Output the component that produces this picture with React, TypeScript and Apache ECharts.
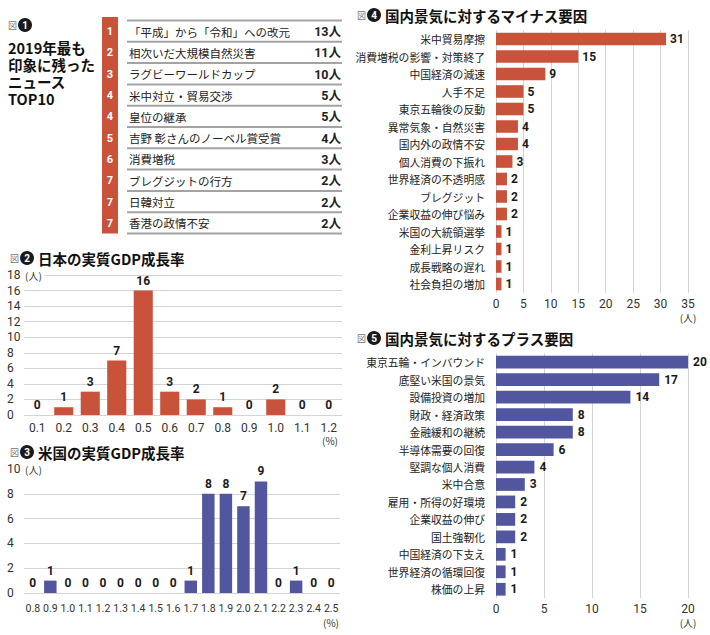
import React, { useEffect, useRef } from "react";
import * as echarts from "echarts";

// ---------- data ----------
const newsRanks = ["1", "2", "3", "4", "4", "5", "6", "7", "7", "7"];
const newsItems = [
  "「平成」から「令和」への改元",
  "相次いだ大規模自然災害",
  "ラグビーワールドカップ",
  "米中対立・貿易交渉",
  "皇位の継承",
  "吉野 彰さんのノーベル賞受賞",
  "消費増税",
  "ブレグジットの行方",
  "日韓対立",
  "香港の政情不安",
];
const newsCounts = [13, 11, 10, 5, 5, 4, 3, 2, 2, 2];
const titleLines = ["2019年最も", "印象に残った", "ニュース", "TOP10"];

const jpCategories = ["0.1", "0.2", "0.3", "0.4", "0.5", "0.6", "0.7", "0.8", "0.9", "1.0", "1.1", "1.2"];
const jpValues = [0, 1, 3, 7, 16, 3, 2, 1, 0, 2, 0, 0];

const usCategories = ["0.8", "0.9", "1.0", "1.1", "1.2", "1.3", "1.4", "1.5", "1.6", "1.7", "1.8", "1.9", "2.0", "2.1", "2.2", "2.3", "2.4", "2.5"];
const usValues = [0, 1, 0, 0, 0, 0, 0, 0, 0, 1, 8, 8, 7, 9, 0, 1, 0, 0];

const minusFactors = [
  "米中貿易摩擦",
  "消費増税の影響・対策終了",
  "中国経済の減速",
  "人手不足",
  "東京五輪後の反動",
  "異常気象・自然災害",
  "国内外の政情不安",
  "個人消費の下振れ",
  "世界経済の不透明感",
  "ブレグジット",
  "企業収益の伸び悩み",
  "米国の大統領選挙",
  "金利上昇リスク",
  "成長戦略の遅れ",
  "社会負担の増加",
];
const minusValues = [31, 15, 9, 5, 5, 4, 4, 3, 2, 2, 2, 1, 1, 1, 1];

const plusFactors = [
  "東京五輪・インバウンド",
  "底堅い米国の景気",
  "設備投資の増加",
  "財政・経済政策",
  "金融緩和の継続",
  "半導体需要の回復",
  "堅調な個人消費",
  "米中合意",
  "雇用・所得の好環境",
  "企業収益の伸び",
  "国土強靭化",
  "中国経済の下支え",
  "世界経済の循環回復",
  "株価の上昇",
];
const plusValues = [20, 17, 14, 8, 8, 6, 4, 3, 2, 2, 2, 1, 1, 1];

// ---------- styles ----------
const FONT_JP = "'Noto Sans CJK JP', 'Noto Sans', sans-serif";
const FONT_NUM = "'Roboto', 'Noto Sans CJK JP', sans-serif";
const RED = "#c8533a";
const BLUE = "#52569f";
const GRID_LINE = "#d4d4d4";
const TEXT = "#222";

function header(x: number, y: number, num: string, title: string) {
  const els: any[] = [
    { type: "text", x: x, y: y, z: 100, style: { text: "図", fill: "#777", fontSize: 9, fontFamily: FONT_JP, verticalAlign: "middle" } },
    { type: "circle", z: 100, shape: { cx: x + 17, cy: y, r: 7 }, style: { fill: "#1a1a1a" } },
    { type: "text", x: x + 17, y: y + 0.5, z: 101, style: { text: num, fill: "#fff", fontSize: 10, fontWeight: "bold", fontFamily: FONT_NUM, align: "center", verticalAlign: "middle" } },
  ];
  if (title) {
    els.push({ type: "text", x: x + 28, y: y, z: 100, style: { text: title, fill: "#111", fontSize: 14.5, fontWeight: "bold", fontFamily: FONT_JP, verticalAlign: "middle" } });
  }
  return els;
}

function buildTable() {
  const els: any[] = [];
  const top = 20.5;
  const rowH = 21.3;
  els.push({ type: "rect", z: 100, shape: { x: 102, y: 17, width: 16, height: top + rowH * newsItems.length - 17 }, style: { fill: RED } });
  for (let i = 0; i <= newsItems.length; i++) {
    const y = top + rowH * i;
    els.push({ type: "line", z: 100, shape: { x1: 127, y1: y, x2: 342, y2: y }, style: { stroke: "#a3a3a3", lineWidth: 2 } });
  }
  newsItems.forEach((item, i) => {
    const cy = top + rowH * i + rowH / 2 + 0.5;
    els.push({ type: "text", x: 110, y: cy, z: 101, style: { text: newsRanks[i], fill: "#fff", fontSize: 11, fontWeight: "bold", fontFamily: FONT_NUM, align: "center", verticalAlign: "middle" } });
    els.push({ type: "text", x: 129, y: cy, z: 101, style: { text: item, fill: TEXT, fontSize: 11.5, fontFamily: FONT_JP, verticalAlign: "middle" } });
    els.push({ type: "text", x: 341, y: cy, z: 101, style: { text: newsCounts[i] + "人", fill: TEXT, fontSize: 12.5, fontWeight: "bold", fontFamily: FONT_NUM, align: "right", verticalAlign: "middle" } });
  });
  return els;
}

function unitText(x: number, y: number, text: string) {
  return { type: "text", x: x, y: y, z: 100, style: { text: text, fill: "#333", fontSize: 10, fontFamily: FONT_JP, align: "center", verticalAlign: "middle" } };
}

const barLabel = {
  show: true,
  fontSize: 12,
  fontWeight: "bold",
  color: "#1a1a1a",
  fontFamily: FONT_NUM,
};

const yUnitName = {
  name: "(人)",
  nameLocation: "end",
  nameGap: 0,
  nameMoveOverlap: false,
  nameTextStyle: {
    fontSize: 10,
    color: "#333",
    fontFamily: FONT_JP,
    align: "left",
    verticalAlign: "middle",
    backgroundColor: "#fff",
    padding: [1, 3, 1, 1],
  },
};

export default function App() {
  const ref = useRef<HTMLDivElement>(null);

  useEffect(() => {
    if (!ref.current) return;
    const chart = echarts.init(ref.current, undefined, { renderer: "svg" });

    const graphic: any[] = [
      ...header(8, 25, "1", ""),
      ...titleLines.map((t, i) => ({
        type: "text", x: 8, y: 47 + 17.2 * i, z: 100,
        style: { text: t, fill: "#111", fontSize: 14.5, fontWeight: "bold", fontFamily: FONT_JP, verticalAlign: "middle" },
      })),
      ...buildTable(),
      ...header(10, 258, "2", "日本の実質GDP成長率"),
      ...header(10, 452, "3", "米国の実質GDP成長率"),
      ...header(357, 15, "4", "国内景気に対するマイナス要因"),
      ...header(357, 338, "5", "国内景気に対するプラス要因"),
      unitText(330, 440, "(%)"),
      unitText(331, 622, "(%)"),
      unitText(688, 317, "(人)"),
      unitText(688, 622, "(人)"),
    ];

    const valueAxisLabel = { fontSize: 12, color: "#333", fontFamily: FONT_NUM };

    chart.setOption({
      animation: false,
      backgroundColor: "#fff",
      textStyle: { fontFamily: FONT_JP },
      graphic: graphic,
      grid: [
        { left: 24, right: 368, top: 275, bottom: 220, containLabel: false },
        { left: 24, right: 370, top: 469, bottom: 42, containLabel: false },
        { left: 496, right: 22, top: 30.25, bottom: 342.25, containLabel: false },
        { left: 496, right: 22, top: 353.5, bottom: 37, containLabel: false },
      ],
      xAxis: [
        {
          gridIndex: 0, type: "category", data: jpCategories,
          axisLine: { show: false }, axisTick: { show: false },
          axisLabel: { ...valueAxisLabel, margin: 7 },
        },
        {
          gridIndex: 1, type: "category", data: usCategories,
          axisLine: { show: false }, axisTick: { show: false },
          axisLabel: { ...valueAxisLabel, fontSize: 10.5, margin: 10, interval: 0 },
        },
        {
          gridIndex: 2, type: "value", min: 0, max: 35, interval: 5,
          axisLine: { show: false }, axisTick: { show: false },
          axisLabel: { ...valueAxisLabel, margin: 5 },
          splitLine: { show: true, lineStyle: { color: GRID_LINE } },
        },
        {
          gridIndex: 3, type: "value", min: 0, max: 20, interval: 5,
          axisLine: { show: false }, axisTick: { show: false },
          axisLabel: { ...valueAxisLabel, margin: 5 },
          splitLine: { show: true, lineStyle: { color: GRID_LINE } },
        },
      ],
      yAxis: [
        {
          gridIndex: 0, type: "value", min: 0, max: 18, interval: 2,
          ...yUnitName,
          axisLine: { show: false }, axisTick: { show: false },
          axisLabel: { ...valueAxisLabel, align: "left", margin: 17 },
          splitLine: { show: true, lineStyle: { color: GRID_LINE } },
        },
        {
          gridIndex: 1, type: "value", min: 0, max: 10, interval: 2,
          ...yUnitName,
          axisLine: { show: false }, axisTick: { show: false },
          axisLabel: { ...valueAxisLabel, align: "left", margin: 17 },
          splitLine: { show: true, showMaxLine: false, lineStyle: { color: GRID_LINE } },
        },
        {
          gridIndex: 2, type: "category", data: minusFactors, inverse: true,
          axisLine: { show: false }, axisTick: { show: false },
          axisLabel: { fontSize: 10.8, color: TEXT, fontFamily: FONT_JP, margin: 11 },
        },
        {
          gridIndex: 3, type: "category", data: plusFactors, inverse: true,
          axisLine: { show: false }, axisTick: { show: false },
          axisLabel: { fontSize: 10.8, color: TEXT, fontFamily: FONT_JP, margin: 11 },
        },
      ],
      series: [
        {
          type: "bar", xAxisIndex: 0, yAxisIndex: 0, data: jpValues,
          barWidth: "72%", itemStyle: { color: RED },
          label: { ...barLabel, position: "top", distance: 4 },
        },
        {
          type: "bar", xAxisIndex: 1, yAxisIndex: 1, data: usValues,
          barWidth: "71%", itemStyle: { color: BLUE },
          label: { ...barLabel, position: "top", distance: 4 },
        },
        {
          type: "bar", xAxisIndex: 2, yAxisIndex: 2, data: minusValues,
          barWidth: "72%", itemStyle: { color: RED },
          label: { ...barLabel, position: "right", distance: 4 },
        },
        {
          type: "bar", xAxisIndex: 3, yAxisIndex: 3, data: plusValues,
          barWidth: "73%", itemStyle: { color: BLUE },
          label: { ...barLabel, position: "right", distance: 5 },
        },
      ],
    });

    return () => {
      chart.dispose();
    };
  }, []);

  return (
    <div
      ref={ref}
      style={{ position: "absolute", left: 0, top: 0, width: 710, height: 635, background: "#fff" }}
    />
  );
}
